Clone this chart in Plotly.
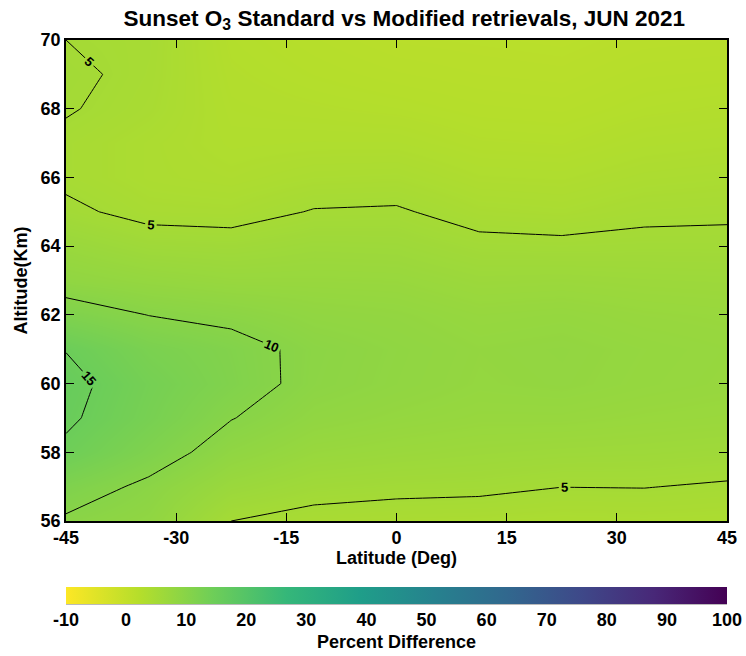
import plotly.graph_objects as go

# Latitude grid (deg) and altitude grid (km)
latitudes = [-45.0, -33.75, -22.5, -11.25, 0.0, 11.25, 22.5, 33.75, 45.0]
altitudes = [56, 57, 58, 59, 60, 61, 62, 63, 64, 65, 66, 67, 68, 69, 70]

# Percent difference per latitude column, listed from 56 km up to 70 km
pd_lat_m45 = [9.6, 11.5, 14.4, 15.5, 15.9, 14.9, 11.5, 8.5, 7.0, 5.4, 4.6, 4.6, 5.15, 5.4, 5.0]
pd_lat_m34 = [8.5, 9.4, 11.5, 12.8, 13.2, 12.3, 9.95, 7.8, 6.0, 4.4, 3.8, 3.8, 4.3, 4.5, 4.6]
pd_lat_m22 = [5.0, 6.8, 8.6, 10.1, 11.2, 11.0, 9.3, 7.3, 5.8, 4.3, 3.5, 3.1, 2.9, 2.7, 2.5]
pd_lat_m11 = [4.3, 5.8, 7.2, 8.4, 9.2, 9.3, 8.4, 7.3, 6.3, 5.1, 4.0, 3.2, 2.7, 2.3, 2.0]
pd_lat_0 = [4.1, 5.5, 6.8, 7.8, 8.5, 8.6, 8.1, 7.2, 6.2, 5.2, 4.1, 3.2, 2.5, 2.0, 1.6]
pd_lat_p11 = [4.0, 5.4, 6.5, 7.4, 7.9, 8.0, 7.5, 6.6, 5.5, 4.3, 3.4, 2.7, 2.2, 1.8, 1.5]
pd_lat_p22 = [3.8, 5.02, 6.3, 7.4, 8.1, 8.2, 7.7, 6.7, 5.4, 4.1, 3.3, 2.6, 2.1, 1.7, 1.4]
pd_lat_p34 = [3.9, 5.05, 6.2, 7.1, 7.7, 7.8, 7.3, 6.5, 5.5, 4.6, 3.8, 3.1, 2.5, 2.1, 1.7]
pd_lat_p45 = [3.8, 4.8, 6.0, 6.9, 7.4, 7.5, 7.1, 6.4, 5.5, 4.7, 4.0, 3.3, 2.7, 2.2, 1.8]

columns = [pd_lat_m45, pd_lat_m34, pd_lat_m22, pd_lat_m11, pd_lat_0,
           pd_lat_p11, pd_lat_p22, pd_lat_p34, pd_lat_p45]
# z[row = altitude][col = latitude]
z = [[col[i] for col in columns] for i in range(len(altitudes))]

x_ticks = [-45, -30, -15, 0, 15, 30, 45]
y_ticks = [56, 58, 60, 62, 64, 66, 68, 70]
cbar_ticks = [-10, 0, 10, 20, 30, 40, 50, 60, 70, 80, 90, 100]

FONT = "Liberation Sans, Arial, sans-serif"
PLOT_H = 656 - 40 - 135  # plot-area height in px
CB_TOP = -66 / PLOT_H    # colorbar top, 66 px below the x axis
CB_THICK = 17

fig = go.Figure()
# smooth colour field
fig.add_trace(go.Heatmap(
    x=latitudes, y=altitudes, z=z, zsmooth="best",
    colorscale="Viridis", reversescale=True,
    zmin=-10, zmax=100, zauto=False,
    colorbar=dict(
        orientation="h",
        x=0.0, xanchor="left", xpad=0,
        y=CB_TOP, yanchor="top", ypad=0,
        len=661, lenmode="pixels",
        thickness=CB_THICK,
        outlinewidth=0,
        tickmode="array", tickvals=cbar_ticks,
        ticktext=[f"<b>{v}</b>" for v in cbar_ticks],
        tickfont=dict(family=FONT, size=18, color="black"),
        ticks="",
        title=dict(text="<b>Percent Difference</b>", side="bottom",
                   font=dict(family=FONT, size=18, color="black")),
    ),
))
# black labelled contour lines at 5, 10, 15 %
fig.add_trace(go.Contour(
    x=latitudes, y=altitudes, z=z,
    showscale=False, hoverinfo="skip",
    contours=dict(coloring="none", start=5, end=15, size=5, showlabels=True,
                  labelfont=dict(family=FONT, size=13, color="black", weight="bold")),
    line=dict(color="black", width=1, smoothing=0),
))

axis_common = dict(
    showline=True, linecolor="black", linewidth=1.5, mirror="allticks",
    ticks="inside", ticklen=8, tickcolor="black", tickwidth=1,
    showgrid=False, zeroline=False,
    tickfont=dict(family=FONT, size=18, color="black"),
)

fig.update_layout(
    width=746, height=656,
    margin=dict(l=66, r=19, t=40, b=135, autoexpand=False),
    paper_bgcolor="white", plot_bgcolor="white",
    title=dict(text="<b>Sunset O<sub>3</sub> Standard vs Modified retrievals, JUN 2021</b>",
               x=0.542, xanchor="center", y=0.985, yanchor="top",
               font=dict(family=FONT, size=22.5, color="black")),
    xaxis=dict(range=[-45, 45], tickmode="array", tickvals=x_ticks,
               ticktext=[f"<b>{v}</b>" for v in x_ticks],
               title=dict(text="<b>Latitude (Deg)</b>", standoff=2,
                          font=dict(family=FONT, size=18, color="black")),
               **axis_common),
    yaxis=dict(range=[56, 70], tickmode="array", tickvals=y_ticks,
               ticktext=[f"<b>{v}</b>" for v in y_ticks],
               title=dict(text="<b>Altitude(Km)</b>", standoff=8,
                          font=dict(family=FONT, size=18, color="black")),
               **axis_common),
    shapes=[dict(type="rect", xref="paper", yref="paper",
                 x0=0.0015, x1=0.0045, y0=CB_TOP, y1=CB_TOP - CB_THICK / PLOT_H,
                 fillcolor="black", line=dict(width=0)),
            dict(type="line", xref="paper", yref="paper",
                 x0=0.0, x1=1.0, y0=CB_TOP - CB_THICK / PLOT_H,
                 y1=CB_TOP - CB_THICK / PLOT_H,
                 line=dict(color="#777777", width=1))],
)

fig.write_html("out.html")
